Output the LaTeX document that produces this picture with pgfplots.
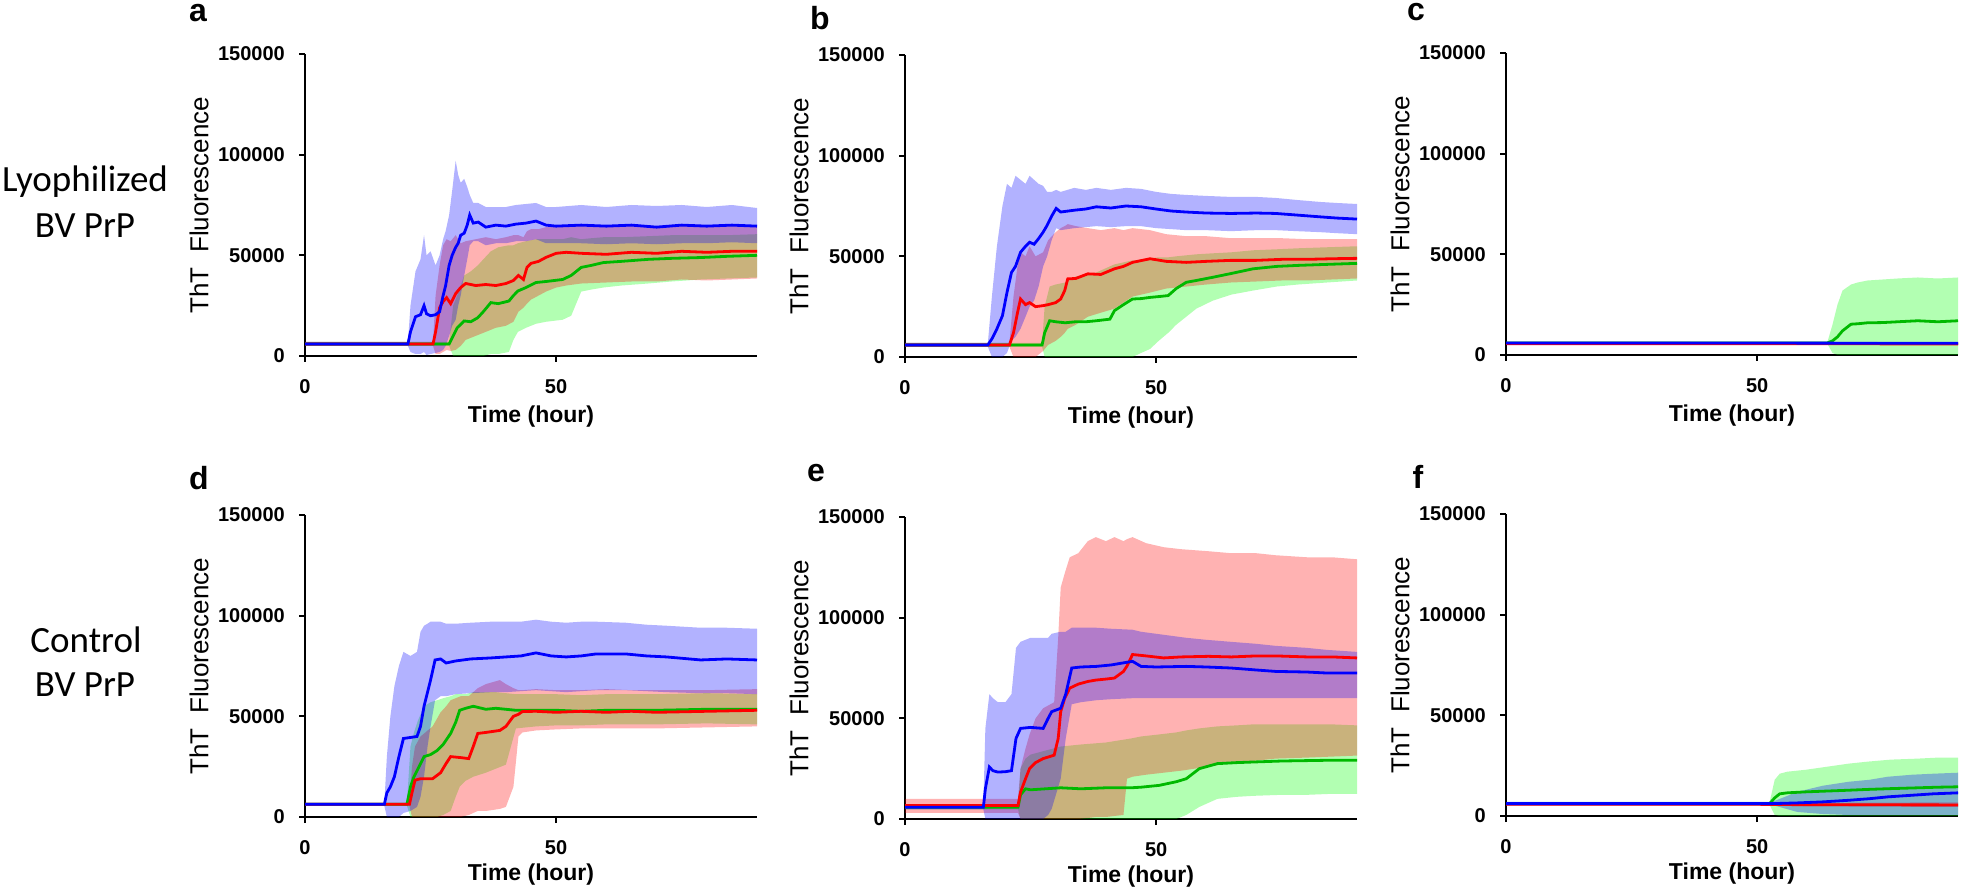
\documentclass[border=0pt]{standalone}
\usepackage{fontspec}
\setmainfont{Liberation Sans}
\newfontfamily\calfont{Carlito}
\usepackage{pgfplots}
\usepackage{pgfplotstable}
\pgfplotsset{compat=1.18}
\usepgfplotslibrary{fillbetween}

\definecolor{cblue}{RGB}{0,0,255}
\definecolor{cred}{RGB}{255,0,0}
\definecolor{cgreen}{RGB}{0,185,0}
\definecolor{fgreen}{RGB}{0,255,0}

% ---------------- Panel a ----------------
\pgfplotstableread{
t m lo hi
0 6000 5000 7000
20.5 6000 5000 7000
21 12000 2000 25000
22 19500 1000 42000
23 20500 1000 48000
23.7 25000 2000 60000
24.2 21000 500 50000
25 20000 1000 52000
26 20500 1500 45000
26.8 22000 2000 50000
27.5 30000 3000 58000
28 35000 5000 62000
28.7 45000 10000 70000
29.3 50000 15000 82000
30 54000 18000 97000
30.5 56000 25000 90000
31 60000 30000 86000
31.7 61000 40000 88000
32.3 65000 48000 84000
32.8 70000 55000 80000
33.5 66000 57000 76000
34.5 66500 57000 76000
36 64000 55000 74000
38 65000 56000 74000
40 64500 56000 74000
42 65500 57000 75000
44 66000 57000 75500
46 67000 58000 76000
48 65000 56000 74000
50 64500 56000 74000
55 65000 56000 75000
60 64500 55500 74000
65 65000 56000 75000
70 64000 55500 74500
75 65000 56000 75000
80 64500 56000 74000
85 65000 56500 75000
90 64500 56000 73500
}\TaB
\pgfplotstableread{
t m lo hi
0 6000 5000 7000
25.5 6000 5000 7000
26 12000 1000 30000
26.8 24000 1000 45000
27.5 27000 2000 55000
28.2 29000 3000 58000
29 26000 2500 57000
30 31000 3000 60000
31 34000 5000 56000
32 36000 8000 57000
34 35000 10000 58000
36 35500 12000 59000
38 35000 14000 58000
40 36000 15000 59000
41.5 37500 17000 60000
42.5 40000 22000 60000
43.5 38000 24000 59000
44.2 44000 26000 62000
45 46000 28000 63000
46.5 47000 30000 63000
48 49000 32000 64000
50 51000 34000 65000
52 51500 35000 65000
55 51000 36000 64500
60 50500 36500 64000
65 51500 37000 65000
70 51000 37000 64500
75 52000 38000 65500
80 51500 37500 65000
85 52000 38000 65000
90 52000 38500 64500
}\TaR
\pgfplotstableread{
t m lo hi
0 6000 5000 7000
28.7 6000 5000 7000
29.5 10000 0 25000
30.3 14000 0 30000
31.7 17400 0 40000
33 17000 0 42000
34.4 19000 0 45000
35.5 22000 0 48000
37 26500 1000 52000
38.5 26000 1000 54000
40.6 27300 2000 55000
41.5 30000 8000 55000
42.4 32300 12000 56000
44 34000 14000 57000
46 36500 16000 58000
48 37000 17000 58000
51.3 38000 18000 58000
53 40000 20000 59000
55 44000 32000 58000
57 45000 33000 58500
59.4 46400 34000 59000
63 47000 35000 59000
68.3 48000 36000 59500
73 48500 37000 60000
78.8 48900 38000 60000
84 49500 38500 60000
90 50000 39000 60500
}\TaG

% ---------------- Panel b ----------------
\pgfplotstableread{
t m lo hi
0 6000 5000 7000
16.5 6000 5000 7000
17.3 9000 0 30000
18.3 14000 0 55000
19.4 20500 0 75000
20.3 32000 2000 86000
21.2 42000 8000 84000
22 45000 10000 90000
23 52000 14000 88000
24 55000 20000 86000
24.8 57000 25000 90000
25.7 56000 28000 88000
26.6 58800 35000 86000
27.5 62000 45000 85000
28.3 65400 50000 82000
29.2 70000 58000 82000
30.1 73800 64000 83000
31 72000 63000 82000
33.7 72900 64000 84000
36 73500 64500 83000
38.1 74600 65000 84000
41 74000 64500 83000
44 75000 65000 84000
47 74600 65000 83500
50 73500 64000 82000
53 72500 63500 81000
56 72000 63000 80500
60 71500 63000 80000
64.9 71300 62500 79500
70 71500 63000 79500
73.8 71300 63000 79000
78 70500 62500 78000
82.7 69600 62000 77000
86 69000 61500 76500
90 68500 61000 76000
}\TbB
\pgfplotstableread{
t m lo hi
0 6000 5000 7000
20.8 6000 5000 7000
21.6 12000 0 30000
22.4 22000 0 45000
23 28800 0 52000
24 26000 0 50000
24.8 27000 0 55000
26 25000 0 50000
27.5 25500 3000 52000
28.5 26000 6000 58000
30 27000 8000 62000
31 28800 10000 64000
31.8 33000 12000 65000
32.4 38800 14000 66000
34 39000 16000 65000
36.4 41300 20000 64000
39 41000 22000 63000
41.7 43800 24000 64000
43.5 45000 27000 63000
45.3 47000 30000 64000
48.8 48800 32000 63000
52 47500 34000 61000
56 47000 35000 60000
60 47500 36000 60000
64.9 48000 37000 59000
70 48000 37500 59000
75 48500 38000 59000
80 48500 38000 58500
85 48800 38500 58500
90 49000 39000 58500
}\TbR
\pgfplotstableread{
t m lo hi
0 6000 5000 7000
27.3 6000 5000 7000
27.8 12000 0 25000
28.8 18000 0 35000
30 17500 0 36000
31.9 17000 0 37000
34 17500 0 40000
36 17500 0 41000
38.1 18000 0 42000
40.8 18800 0 45000
41.7 23000 0 46000
43.5 26000 0 47000
45.3 28800 0 48000
47 29000 2000 48000
48.8 29600 4000 49000
50.5 30000 8000 49500
52.4 30500 12000 49500
54 34000 16000 50000
56 37100 20000 50500
58 38000 24000 51000
61.3 39600 28000 51500
65 41500 31000 52000
69.3 43800 33000 53000
74 45000 35000 53500
78.3 45500 36000 54000
84 46000 37000 54500
90 46500 38000 55000
}\TbG

% ---------------- Panel c ----------------
\pgfplotstableread{
t m lo hi
0 6000 5400 6600
30 6000 5400 6600
60 5900 5300 6500
90 5800 5200 6400
}\TcB
\pgfplotstableread{
t m lo hi
0 5600 5200 6000
45 5600 5200 6000
90 5500 5000 6000
}\TcR
\pgfplotstableread{
t m lo hi
0 6000 5500 6500
64 6000 5500 6500
65 7000 1000 15000
66 9000 0 25000
67 12000 0 32000
68.7 15300 0 35000
70 15500 0 36000
72 16000 0 37000
75 16100 0 37500
78 16500 0 38000
82 17000 0 38500
86 16500 0 38000
90 17000 0 38500
}\TcG

% ---------------- Panel d ----------------
\pgfplotstableread{
t m lo hi
0 6300 5500 7000
15.8 6300 5500 7000
16.3 12000 0 30000
17 15000 0 50000
17.8 20000 0 65000
18.7 30000 0 75000
19.6 39000 2000 82000
21 39500 3000 80000
22.3 40000 5000 82000
23 45000 10000 92000
23.7 55000 20000 95000
24.4 62000 35000 96000
25 68000 45000 97000
25.9 78000 58000 97000
27 78500 60000 97000
28.1 76500 60000 96000
30 77500 61000 96000
33 78500 61500 96500
37 79000 62000 97000
40 79500 62000 97000
43 80000 62500 97000
46 81500 63000 98000
49 80000 62500 97000
52 79500 62000 96500
55 80000 62500 97000
58 81000 63000 97000
63.8 81000 63000 96500
68 80000 62500 95500
72 79500 62000 95000
78.8 78000 61500 94000
84 78500 61500 94000
90 78000 61000 93500
}\TdB
\pgfplotstableread{
t m lo hi
0 6300 5500 7000
20.8 6300 5500 7000
21.3 12000 0 25000
21.9 18300 0 35000
23 19000 0 40000
25.4 19000 0 45000
27 22000 0 52000
28.1 26600 0 55000
29 30000 0 58000
31 29500 0 60000
32.6 29000 1000 60000
33.5 35000 2000 62000
34.4 41500 3000 64000
36 42000 3000 66000
38.8 43000 4000 68000
40 45000 5000 66000
41.5 50000 15000 64000
42.5 51000 40000 63000
43.3 52400 42000 63000
46 52500 43000 63500
50 52000 43500 63000
55 52500 44000 63000
60 52000 44000 63500
65 52500 44000 63000
70 52000 44000 63000
80 52500 44500 63000
90 53000 45000 63500
}\TdR
\pgfplotstableread{
t m lo hi
0 6300 5500 7000
20.3 6300 5500 7000
21 15000 0 35000
21.7 20000 0 42000
22.5 24000 0 48000
23.7 30000 0 55000
25 31000 0 57000
26.3 33000 0 58000
27.5 36000 1000 59000
29 41500 3000 60000
30 47000 10000 61000
30.8 53000 15000 61000
32 54000 18000 61000
33.5 55000 20000 62000
36 53500 22000 62000
38 54000 24000 62000
40 53500 26000 61500
42 53000 44000 61000
46 53000 45000 61000
50 53000 45500 61000
55 52500 45500 60500
60 53000 46000 61000
70 53000 46000 61000
80 53500 46500 61500
90 53500 46000 61000
}\TdG

% ---------------- Panel e ----------------
\pgfplotstableread{
t m lo hi
0 5800 4800 7000
15.6 5800 4800 7000
16 15000 0 45000
16.8 25800 0 62000
17.5 24000 0 60000
18.5 23300 0 58000
20 23500 0 58000
21.2 24000 0 62000
22.1 40000 0 85000
23 45000 0 88000
25 45500 0 90000
27.5 45000 0 90000
28.5 50000 2000 90000
29.2 53300 5000 92000
31 55000 20000 93000
32 62000 40000 93000
33.2 75000 57000 95000
35 75500 58000 95000
38.1 75800 59000 95000
41 76500 59500 94500
45.3 78300 60000 94000
47 75800 60000 93000
50 75500 60000 92000
56 75800 60000 90000
60 75500 60000 89000
64.9 75000 60000 88000
70 74000 60000 87000
73.8 73300 60000 86000
80 73000 60000 85000
84 72500 60000 84000
90 72500 60000 83000
}\TeB
\pgfplotstableread{
t m lo hi
0 6700 3000 10000
22.5 6700 3000 10000
23 13300 0 25000
24 20000 0 35000
24.8 25000 0 42000
26 28000 0 50000
27.5 30000 0 55000
29.7 31700 0 58000
30.5 40000 0 90000
31 53300 0 115000
31.8 60000 0 122000
32.8 65000 0 130000
34.5 67000 0 132000
36.4 68300 500 138000
38 69000 1000 140000
40 69500 1000 138000
41.7 70000 1500 140000
43.5 73300 2000 138000
44.2 76000 20000 139000
45.3 81700 21000 140000
48 81000 22000 137000
51.5 80000 23000 135000
55 80500 24000 134000
60.4 80800 26000 133000
65 80500 28000 132000
70 81000 29000 132000
73.8 81000 30000 131000
80 80500 30500 130000
85 80500 31000 130000
90 80000 31500 129000
}\TeR
\pgfplotstableread{
t m lo hi
0 5800 4800 7000
22.5 5800 4800 7000
23 12000 0 25000
24 15000 0 30000
25 14500 0 32000
28 15000 0 34000
31 15500 0 36000
35 15000 0 37000
40 15500 0 38000
45 15500 0 40000
47 15800 0 41000
50.6 16700 0 42000
54 18500 0 43000
56 20000 2000 44000
58.6 25000 6000 45000
62.2 27500 10000 46000
66 28000 11000 46500
69.3 28300 11500 47000
75 28800 12000 47000
80 29000 12000 47000
85 29200 12500 47000
90 29200 12500 46500
}\TeG

% ---------------- Panel f ----------------
\pgfplotstableread{
t m lo hi
0 6150 5500 7000
53 6150 5500 7000
58 6500 2000 12000
63 7000 1000 15000
68.2 7800 500 17000
72.4 8600 500 18000
76 9500 500 19500
80.8 10300 500 20500
85 11000 500 21000
90 11500 500 21500
}\TfB
\pgfplotstableread{
t m lo hi
0 5800 5300 6300
50 5800 5300 6300
60 5600 4800 6500
90 5500 4500 6800
}\TfR
\pgfplotstableread{
t m lo hi
0 6150 5500 7000
52.5 6150 5500 7000
53.5 9000 500 18000
54.5 11000 0 21000
56 11500 0 22000
59.8 12000 0 23000
64 12400 0 24500
68.2 12800 0 26000
72 13200 0 27000
76.6 13600 0 28000
82 14000 0 28500
86 14300 0 29000
90 14500 0 29000
}\TfG

\newcommand{\series}[4]{%
  \addplot[#3, line width=2.8bp, forget plot] table[x=t,y=m]{#1};
  \addplot[name path=#2u, draw=none, forget plot] table[x=t,y=hi]{#1};
  \addplot[name path=#2l, draw=none, forget plot] table[x=t,y=lo]{#1};
  \addplot[fill=#4, fill opacity=0.3, draw=none, forget plot] fill between[of=#2u and #2l];
}

\pgfplotsset{
  panel/.style={
    scale only axis, width=452bp, height=302bp,
    anchor=south west,
    xmin=0, xmax=90, ymin=0, ymax=150000,
    axis x line*=bottom, axis y line*=left,
    axis line style={line width=2bp, black},
    xtick={0,50}, ytick={0,50000,100000,150000},
    tick align=outside, major tick length=6bp,
    tick style={line width=2bp, black},
    scaled y ticks=false,
    /pgf/number format/fixed,
    /pgf/number format/precision=0,
    /pgf/number format/1000 sep={},
    /pgf/number format/assume math mode=true,
    tick label style={font=\fontsize{20bp}{22bp}\selectfont\bfseries},
    yticklabel style={anchor=east, inner sep=0pt, xshift=-14bp},
    xticklabel style={anchor=north, inner sep=0pt, yshift=-17bp},
    xlabel={Time (hour)},
    ylabel={ThT\ \ Fluorescence},
    xlabel style={font=\fontsize{23bp}{25bp}\selectfont\bfseries, at={(axis description cs:0.5,-0.199)}, anchor=center, inner sep=0pt},
    ylabel style={font=\fontsize{26bp}{28bp}\selectfont, at={(axis description cs:-0.2345,0.5)}, anchor=center, rotate=0, inner sep=0pt},
  }
}

\begin{document}
\begin{tikzpicture}
% row labels
\node[font=\calfont\fontsize{37bp}{40bp}\selectfont, inner sep=0pt] at (85bp,712bp) {Lyophilized};
\node[font=\calfont\fontsize{37bp}{40bp}\selectfont, inner sep=0pt] at (85bp,668bp) {BV PrP};
\node[font=\calfont\fontsize{37bp}{40bp}\selectfont, inner sep=0pt] at (86bp,254bp) {Control};
\node[font=\calfont\fontsize{37bp}{40bp}\selectfont, inner sep=0pt] at (85bp,209bp) {BV PrP};

% panel letters
\node[font=\fontsize{32bp}{34bp}\selectfont\bfseries, inner sep=0pt] at (198bp,881bp) {a};
\node[font=\fontsize{32bp}{34bp}\selectfont\bfseries, inner sep=0pt] at (820bp,876bp) {b};
\node[font=\fontsize{32bp}{34bp}\selectfont\bfseries, inner sep=0pt] at (1416bp,882bp) {c};
\node[font=\fontsize{32bp}{34bp}\selectfont\bfseries, inner sep=0pt] at (199bp,416bp) {d};
\node[font=\fontsize{32bp}{34bp}\selectfont\bfseries, inner sep=0pt] at (816bp,421bp) {e};
\node[font=\fontsize{32bp}{34bp}\selectfont\bfseries, inner sep=0pt] at (1418bp,417bp) {f};

% a
\begin{axis}[panel, at={(305bp,538bp)}]
\series{\TaG}{aG}{cgreen}{fgreen}
\series{\TaR}{aR}{cred}{cred}
\series{\TaB}{aB}{cblue}{cblue}
\end{axis}
% b
\begin{axis}[panel, at={(905bp,537bp)}]
\series{\TbG}{bG}{cgreen}{fgreen}
\series{\TbR}{bR}{cred}{cred}
\series{\TbB}{bB}{cblue}{cblue}
\end{axis}
% c
\begin{axis}[panel, at={(1506bp,539bp)}]
\series{\TcG}{cG}{cgreen}{fgreen}
\series{\TcR}{cR}{cred}{cred}
\series{\TcB}{cB}{cblue}{cblue}
\end{axis}
% d
\begin{axis}[panel, at={(305bp,77bp)}, xlabel style={at={(axis description cs:0.5,-0.192)}}]
\series{\TdG}{dG}{cgreen}{fgreen}
\series{\TdR}{dR}{cred}{cred}
\series{\TdB}{dB}{cblue}{cblue}
\end{axis}
% e
\begin{axis}[panel, at={(905bp,75bp)}, xlabel style={at={(axis description cs:0.5,-0.192)}}]
\series{\TeG}{eG}{cgreen}{fgreen}
\series{\TeR}{eR}{cred}{cred}
\series{\TeB}{eB}{cblue}{cblue}
\end{axis}
% f
\begin{axis}[panel, at={(1506bp,78bp)}, xlabel style={at={(axis description cs:0.5,-0.192)}}]
\series{\TfG}{fG}{cgreen}{fgreen}
\series{\TfR}{fR}{cred}{cred}
\series{\TfB}{fB}{cblue}{cblue}
\end{axis}

\pgfresetboundingbox
\path[use as bounding box] (0,0) rectangle (1961bp,894bp);
\end{tikzpicture}
\end{document}
